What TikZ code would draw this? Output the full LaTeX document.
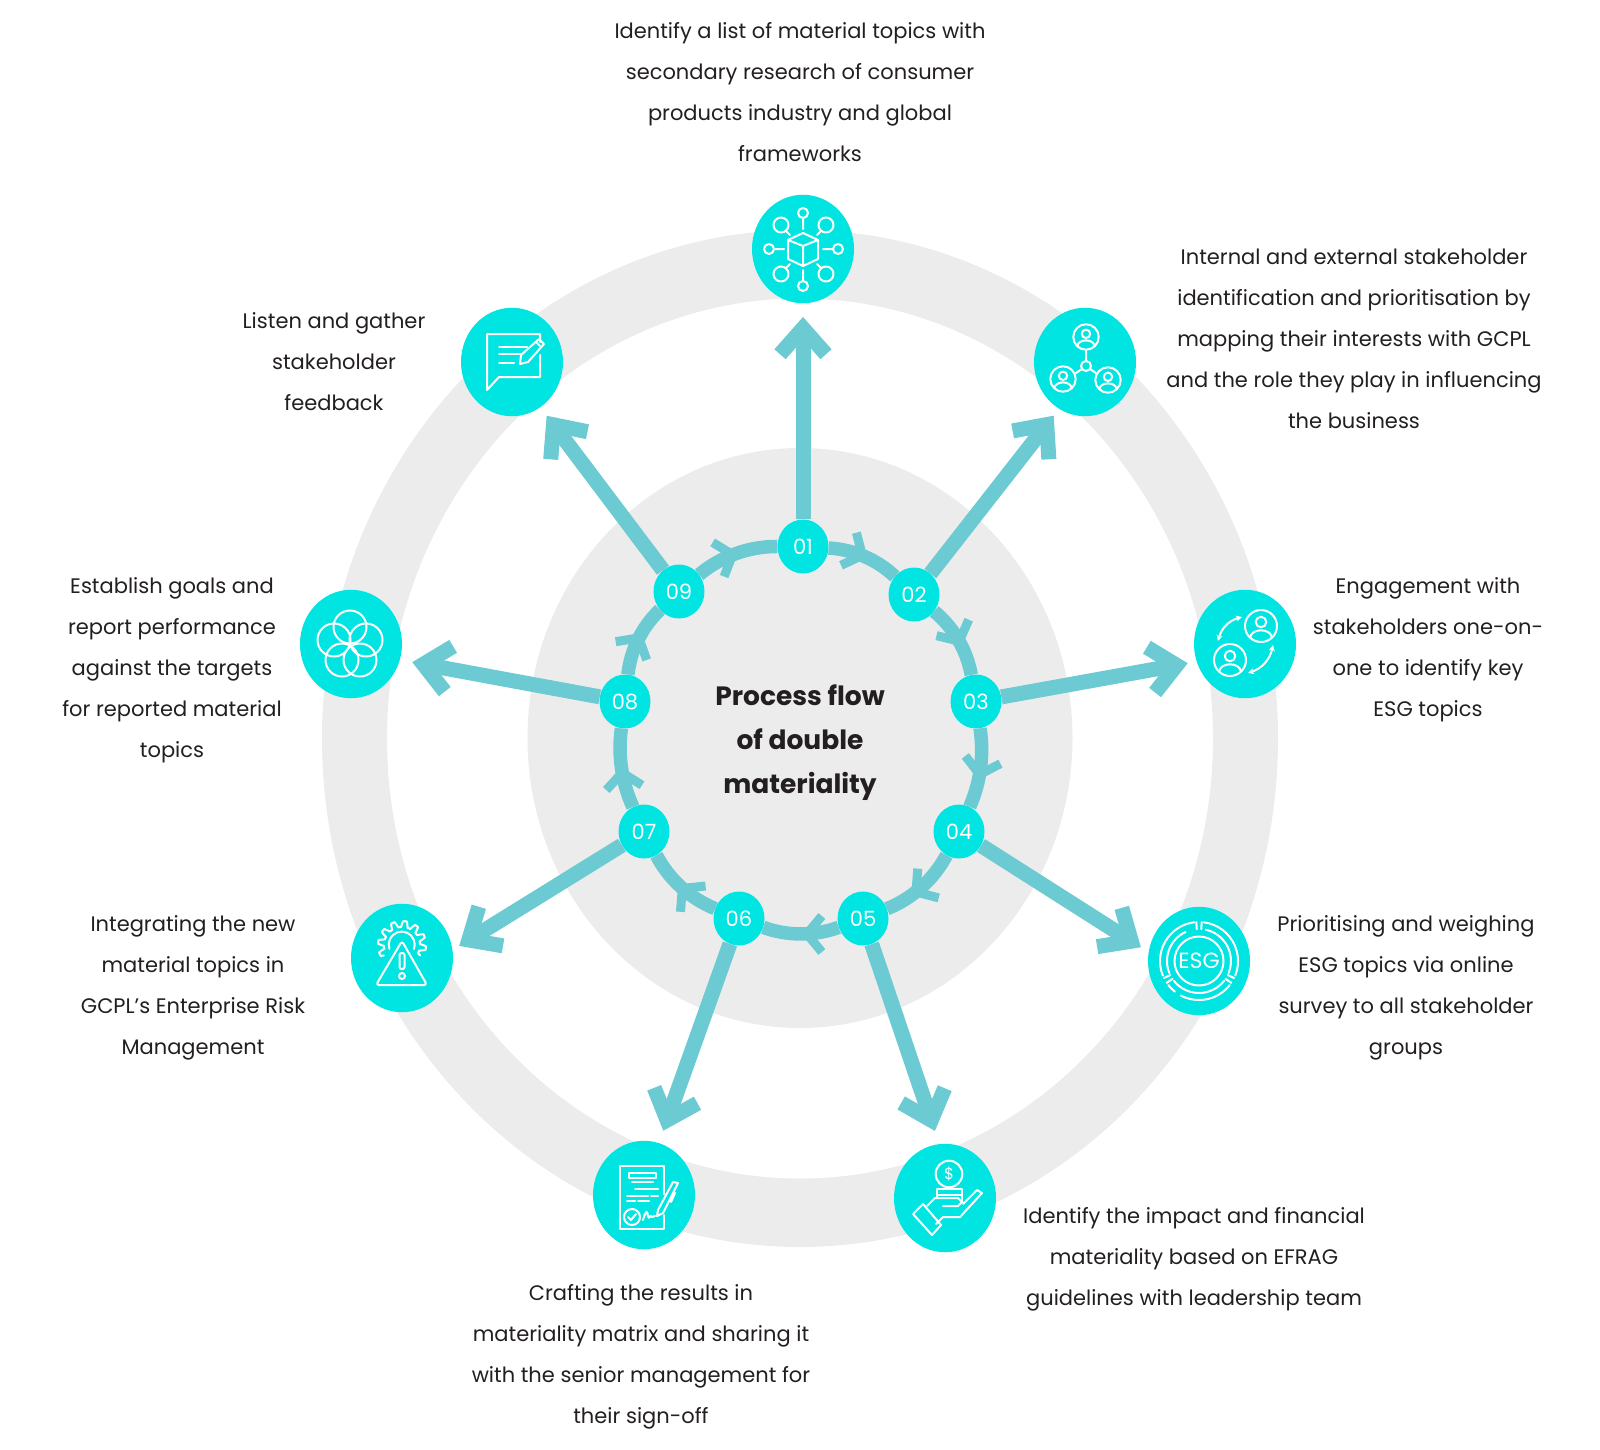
\documentclass[tikz,border=0pt]{standalone}
\usepackage{fontspec}
\usepackage{xcolor}
\usetikzlibrary{positioning,arrows.meta,shapes.geometric,decorations.markings}
\setmainfont{Poppins}
\definecolor{ringgrey}{HTML}{ECECEC}
\definecolor{cyanfill}{HTML}{00E5E1}
\definecolor{tealline}{HTML}{6BCAD2}
\definecolor{inktext}{HTML}{231F20}

\begin{document}
\begin{tikzpicture}[
    x = 1pt,
    y = -1pt,
    stepnode/.style={ellipse, fill=cyanfill, text=white, inner sep=0pt, minimum width=51pt, minimum height=54pt, font=\fontsize{21}{24}\selectfont},
    iconnode/.style={ellipse, fill=cyanfill, inner sep=0pt, minimum width=102pt, minimum height=108.5pt},
    blurb/.style={align=center, text=inktext, inner sep=0pt, font=\fontsize{21}{41}\selectfont},
    flow/.style={draw=tealline, line width=13.5pt, looseness=.88, postaction={decorate}, decoration={markings, mark=at position #1 with {\arrow[tealline]{Straight Barb[length=15pt,width=36pt,line width=9pt]}}}},
    spoke/.style={draw=tealline, line width=15pt, -{Straight Barb[length=26pt,width=46pt,line width=15pt]}},
    iconline/.style={draw=white, line width=2pt, line join=round, line cap=round},
    person/.pic={
        \draw[iconline] (0,0) circle[radius=#1];
        \draw[iconline] (0,{-0.25*#1}) circle[radius={0.33*#1}];
        \draw[iconline] ({-0.68*#1},{0.72*#1}) .. controls ({-0.62*#1},{0.12*#1}) and ({0.62*#1},{0.12*#1}) .. ({0.68*#1},{0.72*#1});
    }
]
    \useasboundingbox (0,0) rectangle (1600,1450);

    % grey ring and disc
    \fill[ringgrey, even odd rule] (800,738.5) ellipse[x radius=478, y radius=508.5] (800,738.5) ellipse[x radius=413, y radius=440];
    \fill[ringgrey] (800,738) ellipse[x radius=272.5, y radius=290];

    % numbered steps
    \node[stepnode] (n01) at (803,546.5) {01};
    \node[stepnode] (n02) at (914,594.5) {02};
    \node[stepnode] (n03) at (976,701.5) {03};
    \node[stepnode] (n04) at (959,831.5) {04};
    \node[stepnode] (n05) at (863,918.5) {05};
    \node[stepnode] (n06) at (739,918.5) {06};
    \node[stepnode] (n07) at (644,831.5) {07};
    \node[stepnode] (n08) at (625,701.5) {08};
    \node[stepnode] (n09) at (679,591.5) {09};

    % icon discs
    \node[iconnode] (i01) at (803,249) {};
    \node[iconnode] (i02) at (1085,362) {};
    \node[iconnode] (i03) at (1245,644) {};
    \node[iconnode] (i04) at (1199,961) {};
    \node[iconnode] (i05) at (945,1198) {};
    \node[iconnode] (i06) at (644,1195) {};
    \node[iconnode] (i07) at (402,958) {};
    \node[iconnode] (i08) at (351,644) {};
    \node[iconnode] (i09) at (512,362) {};

    % flow round the circle
    \draw[flow=.55] (n01) to[bend left=20] (n02);
    \draw[flow=.6] (n02) to[bend left=20] (n03);
    \draw[flow=.65] (n03) to[bend left=16] (n04);
    \draw[flow=.66] (n04) to[bend left=20] (n05);
    \draw[flow=.5] (n05) to[bend left=20] (n06);
    \draw[flow=.55] (n06) to[bend left=20] (n07);
    \draw[flow=.52] (n07) to[bend left=16] (n08);
    \draw[flow=.6] (n08) to[bend left=20] (n09);
    \draw[flow=.53] (n09) to[bend left=20] (n01);

    % spokes out to the icons
    \draw[spoke, shorten >=13.5pt] (n01) -- (i01.270);
    \draw[spoke, shorten >=8.6pt] (n02) -- (i02.241);
    \draw[spoke, shorten >=9pt] (n03) -- (i03.200);
    \draw[spoke, shorten >=9pt] (n04) -- (i04.170);
    \draw[spoke, shorten >=13.7pt] (n05) -- (i05.96);
    \draw[spoke, shorten >=13pt] (n06) -- (i06.74);
    \draw[spoke, shorten >=7.7pt] (n07) -- (i07.9);
    \draw[spoke, shorten >=12.5pt] (n08) -- (i08.342);
    \draw[spoke, shorten >=10.5pt] (n09) -- (i09.302);

    % texts
    \node[align=center, text=inktext, inner sep=0pt, font=\fontsize{26.5}{44}\selectfont\bfseries] (title) at (800,742.5) {Process flow\\of double\\materiality};
    \node[blurb] (t01) at (800,92.5) {Identify a list of material topics with\\secondary research of consumer\\products industry and global\\frameworks};
    \node[blurb] (t02) at (1354,339) {Internal and external stakeholder\\identification and prioritisation by\\mapping their interests with GCPL\\and the role they play in influencing\\the business};
    \node[blurb] (t03) at (1428,650) {Engagement with\\stakeholders one-on-\\one to identify key\\ESG topics};
    \node[blurb] (t04) at (1406,988) {Prioritising and weighing\\ESG topics via online\\survey to all stakeholder\\groups};
    \node[blurb] (t05) at (1194,1259) {Identify the impact and financial\\materiality based on EFRAG\\guidelines with leadership team};
    \node[blurb] (t06) at (641,1356.5) {Crafting the results in\\materiality matrix and sharing it\\with the senior management for\\their sign-off};
    \node[blurb] (t07) at (193,988) {Integrating the new\\material topics in\\GCPL’s Enterprise Risk\\Management};
    \node[blurb] (t08) at (172,670) {Establish goals and\\report performance\\against the targets\\for reported material\\topics};
    \node[blurb] (t09) at (334,362) {Listen and gather\\stakeholder\\feedback};

    % icon 01: cube with hubs
    \begin{scope}[shift={(i01)}, iconline]
        \draw (0,-16) -- (15,-9) -- (15,10) -- (0,17) -- (-15,10) -- (-15,-9) -- cycle;
        \draw (-15,-9) -- (0,-3) -- (15,-9) (0,-3) -- (0,17);
        \draw (0,-36) circle[radius=5] (0,-31) -- (0,-20);
        \draw (0,37) circle[radius=5] (0,32) -- (0,21);
        \draw (-34,0) circle[radius=5] (-29,0) -- (-19,0);
        \draw (35,0) circle[radius=5] (30,0) -- (20,0);
        \draw (-22,-24) circle[radius=7.5] (-17,-18) -- (-13,-14);
        \draw (23,-24) circle[radius=7.5] (18,-18) -- (14,-14);
        \draw (-22,25) circle[radius=7.5] (-17,19) -- (-13,15);
        \draw (23,25) circle[radius=7.5] (18,19) -- (14,15);
    \end{scope}

    % icon 02: three people
    \begin{scope}[shift={(i02)}, iconline]
        \pic at (1,-25) {person=12.7};
        \pic at (-22,17) {person=12.7};
        \pic at (23,18) {person=12.7};
        \draw (1,4) circle[radius=5] (1,-12) -- (1,-1) (-3,7) -- (-9,11) (5,7) -- (11,11);
    \end{scope}

    % icon 03: two people swapping
    \begin{scope}[shift={(i03)}, iconline]
        \pic at (16,-18) {person=16};
        \pic at (-15,16) {person=16};
        \draw[{Stealth[length=6pt,width=6pt]}-{Stealth[length=6pt,width=6pt]}] (-3,-27) to[bend right=30] (-27,-3);
        \draw[{Stealth[length=6pt,width=6pt]}-{Stealth[length=6pt,width=6pt]}] (28,1) to[bend left=30] (3,29);
    \end{scope}

    % icon 04: ESG wheel
    \begin{scope}[shift={(i04)}, iconline]
        \draw (0,0) circle[radius=24.5];
        \draw (-83:39) arc[start angle=-83, end angle=22, radius=39];
        \draw (38:39) arc[start angle=38, end angle=118, radius=39];
        \draw (128:39) arc[start angle=128, end angle=142, radius=39];
        \draw (158:39) arc[start angle=158, end angle=263, radius=39];
        \draw (-78:32) arc[start angle=-78, end angle=22, radius=32];
        \draw (38:32) arc[start angle=38, end angle=142, radius=32];
        \draw (158:32) arc[start angle=158, end angle=245, radius=32];
        \draw (-94:32) -- (-94:39) (-86:32) -- (-86:39);
        \draw (26:32) -- (26:39) (34:32) -- (34:39);
        \draw (146:32) -- (146:39) (154:32) -- (154:39);
        \node[text=white, inner sep=0pt, font=\fontsize{22}{24}\selectfont] (esgword) at (0,0) {ESG};
    \end{scope}

    % icon 05: hand with coin
    \begin{scope}[shift={(i05)}, iconline]
        \draw (4,-24) circle[radius=13.3];
        \node[text=white, inner sep=0pt, font=\fontsize{16}{18}\selectfont] (coinsign) at (4,-24) {\$};
        \draw (-8,-1) -- (-8,-9) -- (17,-9) -- (17,4) (-8,-3) -- (17,-3);
        \draw (-32,16) -- (-22,6) -- (-4,27) -- (-13,37) -- cycle;
        \draw (-18,8) -- (-10,0) -- (13,0) -- (17,4) -- (13,8) -- (-2,8);
        \draw (18,6) -- (32,-8) -- (37,-5) -- (15,19) -- (-2,19) -- (-9,26);
    \end{scope}

    % icon 06: signed document
    \begin{scope}[shift={(i06)}, iconline]
        \draw (20,-1) -- (20,-29) -- (-24,-29) -- (-24,34) -- (20,34) -- (20,20);
        \draw (-15,-22) rectangle (12,-17);
        \draw (-12,-13) -- (9,-13) (-9,-6) -- (14,-6);
        \draw (-17,1) -- (4,1) (7,1) -- (14,1) (-17,6) -- (-9,6) (-6,6) -- (5,6);
        \draw (-12,22) circle[radius=8] (-16,22) -- (-13,25) -- (-8,19);
        \draw (-1,25) .. controls (2,15) and (3,15) .. (4,21) .. controls (5,26) and (6,18) .. (8,22) -- (11,21);
        \draw (13,21) -- (14,15) -- (29,-13) -- (34,-12) -- (19,18) -- cycle (31,-2) -- (27,7);
    \end{scope}

    % icon 07: warning and gear
    \begin{scope}[shift={(i07)}, iconline]
        \draw[shift={(0,-13)}] plot[domain=150:390, samples=81] (\x:{21+3*sign(sin(12*\x))});
        \draw (-12.5,-9) arc[start angle=160, end angle=380, radius=13];
        \draw[fill=cyanfill, rounded corners=3pt] (0,-17) -- (-26,27) -- (25,27) -- cycle;
        \draw[rounded corners=2pt] (-2.5,-5) rectangle (2.5,11);
        \draw (0,18) circle[radius=3];
    \end{scope}

    % icon 08: five rings
    \begin{scope}[shift={(i08)}, iconline]
        \draw (-1,-17) circle[radius=16.5];
        \draw (-17,-4) circle[radius=16.5];
        \draw (15,-4) circle[radius=16.5];
        \draw (-9,16) circle[radius=16.5];
        \draw (9,16) circle[radius=16.5];
    \end{scope}

    % icon 09: speech bubble and pen
    \begin{scope}[shift={(i09)}, iconline]
        \draw (28,-20) -- (28,-28) -- (-25,-28) -- (-25,28) -- (-13,15) -- (28,15) -- (28,-7);
        \draw (-13,-15) -- (15,-15) (-13,-8) -- (10,-8) (-13,1) -- (2,1);
        \draw (8,2) -- (9,-7) -- (27,-23) -- (32,-18) -- (16,0) -- cycle (24,-20) -- (29,-15);
    \end{scope}
\end{tikzpicture}
\end{document}
